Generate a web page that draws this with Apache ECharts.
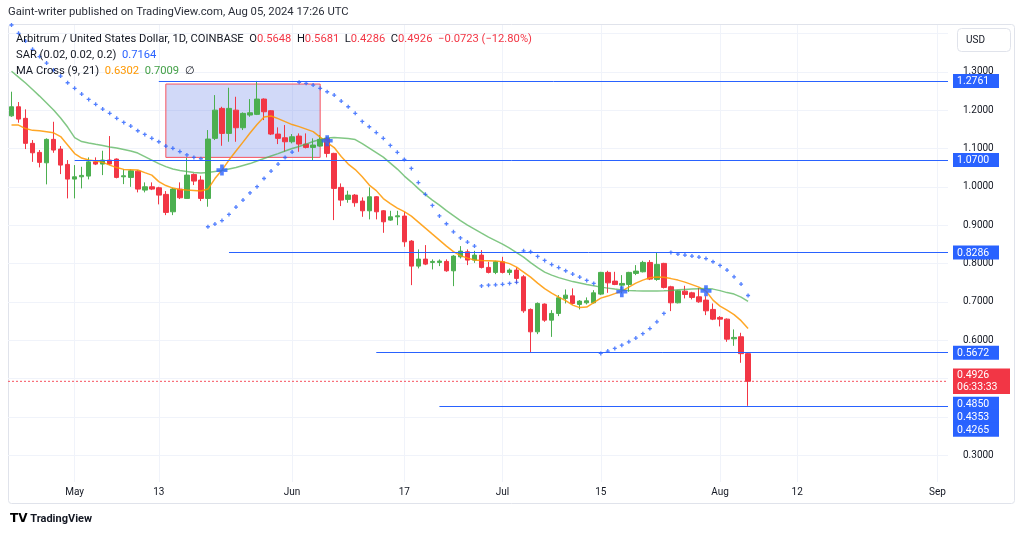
<!DOCTYPE html>
<html><head><meta charset="utf-8">
<script src="https://cdn.jsdelivr.net/npm/echarts@6/dist/echarts.min.js"></script>
<style>html,body{margin:0;padding:0;background:#fff}#c{width:1024px;height:536px}</style>
</head><body><div id="c"></div>
<script>
// ---------- data ----------
const firstDay = '2024-04-22';
const opens = [1.185,1.2087,1.1785,1.1133,1.0897,1.0626,1.1237,1.0984,1.0584,1.0201,
 1.0261,1.0279,1.065,1.0592,1.0697,1.0723,1.0261,1.0245,1.0408,0.9914,
 1.0,0.9974,0.9802,0.9348,0.994,0.9697,1.0323,1.0175,0.9697,1.1263,
 1.2045,1.1393,1.1999,1.154,1.1871,1.1889,1.2288,1.1983,1.1375,1.1279,
 1.1174,1.1323,1.1114,1.1028,1.1062,1.1263,1.0871,0.9984,0.9671,0.9783,
 0.9627,0.9374,0.974,0.9374,0.9131,0.9217,0.9236,0.8583,0.7931,0.8114,
 0.8027,0.8027,0.8053,0.7809,0.8174,0.8304,0.8088,0.8218,0.7897,0.7767,
 0.8044,0.7767,0.7827,0.7652,0.6801,0.6217,0.694,0.6522,0.6697,0.7089,
 0.7155,0.6932,0.6974,0.6974,0.7201,0.7767,0.754,0.7435,0.7453,0.7741,
 0.7783,0.8027,0.7584,0.8002,0.7392,0.6974,0.7278,0.7234,0.713,0.7044,
 0.6801,0.6593,0.6548,0.6035,0.6088,0.5648];
const highs = [1.248,1.221,1.202,1.1219,1.0958,1.1263,1.1696,1.1062,1.0697,1.0566,
 1.0522,1.0767,1.0767,1.094,1.1323,1.074,1.0454,1.0454,1.0435,1.0115,
 1.0115,1.0,0.9888,0.9974,1.0115,1.0757,1.0349,1.0288,1.148,1.2392,
 1.2087,1.2583,1.2348,1.194,1.2288,1.2761,1.2306,1.1999,1.155,1.161,
 1.1375,1.1393,1.1393,1.1263,1.1349,1.1305,1.0887,1.0088,0.9897,0.981,
 0.9724,0.9985,0.9758,0.9392,0.9374,0.9374,0.9348,0.8609,0.8367,0.8479,
 0.8106,0.8106,0.8106,0.8218,0.8453,0.8367,0.833,0.8348,0.8044,0.807,
 0.8174,0.787,0.7897,0.7696,0.6827,0.6984,0.6958,0.6783,0.7174,0.7323,
 0.735,0.7044,0.7114,0.7304,0.7782,0.7809,0.7782,0.7696,0.7782,0.7957,
 0.807,0.8088,0.8286,0.8017,0.7418,0.7304,0.7418,0.726,0.7366,0.7148,
 0.6957,0.6627,0.6566,0.628,0.6192,0.5681];
const lows = [1.1826,1.167,1.0984,1.065,1.0506,1.0063,1.0887,1.0331,0.9697,0.9697,
 0.9958,1.0193,1.0566,1.0305,1.0566,1.022,1.007,0.9999,0.9854,0.9854,
 0.9914,0.9541,0.9261,0.9261,0.9679,0.9697,1.0045,0.9627,0.948,1.1219,
 1.107,1.1174,1.1174,1.148,1.1826,1.1871,1.174,1.1349,1.1114,1.0913,
 1.1133,1.0913,1.1001,1.0697,1.1044,1.0767,0.9131,0.9497,0.9584,0.948,
 0.9217,0.915,0.915,0.88,0.9113,0.8999,0.8435,0.7435,0.7871,0.7957,
 0.7845,0.7931,0.7783,0.7409,0.813,0.7957,0.8017,0.787,0.774,0.7722,
 0.774,0.7696,0.7479,0.6713,0.5672,0.6157,0.6478,0.6085,0.6627,0.6958,
 0.6932,0.6801,0.6932,0.6958,0.7174,0.7234,0.7435,0.7218,0.726,0.7696,
 0.7767,0.7566,0.7548,0.7349,0.6757,0.6958,0.7089,0.7062,0.6974,0.6653,
 0.6522,0.6358,0.5957,0.5852,0.541,0.4286];
const closes = [1.2087,1.1766,1.1133,1.0887,1.0637,1.1237,1.0958,1.0566,1.0201,1.0261,
 1.0297,1.065,1.0592,1.0697,1.0592,1.0245,1.0287,1.0417,0.994,1.0,
 0.994,0.9783,0.9332,0.994,0.9713,1.0305,1.0149,0.9697,1.1245,1.1999,
 1.1393,1.2045,1.154,1.1915,1.1931,1.2288,1.1957,1.1375,1.1263,1.1174,
 1.1305,1.1114,1.1028,1.1088,1.1237,1.0871,0.9958,0.9653,0.9783,0.9584,
 0.9374,0.974,0.9348,0.9087,0.9217,0.9243,0.8565,0.7931,0.8114,0.7983,
 0.8053,0.8062,0.7809,0.8192,0.8322,0.8088,0.8218,0.7897,0.7767,0.8044,
 0.7767,0.7827,0.7611,0.6765,0.6217,0.6958,0.6522,0.6697,0.7104,0.7174,
 0.6958,0.7018,0.7026,0.7234,0.7767,0.7495,0.7453,0.7479,0.7767,0.7801,
 0.8027,0.7592,0.7976,0.7375,0.6974,0.7286,0.7192,0.7114,0.7,0.6765,
 0.6548,0.6548,0.6026,0.6071,0.5648,0.4926];
const ma9 = [1.161,1.161,1.1519,1.1472,1.1462,1.1436,1.1407,1.131,1.1088,1.0866,
 1.0749,1.0697,1.0671,1.0637,1.0566,1.0501,1.0454,1.0446,1.0436,1.037,
 1.0305,1.0136,1.0032,0.9966,0.9932,0.9914,0.9901,0.9888,0.994,1.0214,
 1.0436,1.0697,1.0932,1.1166,1.1401,1.1623,1.1818,1.1845,1.1779,1.1701,
 1.1623,1.157,1.1505,1.144,1.1297,1.1153,1.1023,1.0788,1.0592,1.0449,
 1.0261,1.0045,0.99,0.9692,0.9562,0.9444,0.9353,0.9236,0.908,0.8923,
 0.8766,0.861,0.8453,0.831,0.8205,0.814,0.8088,0.8075,0.807,0.8062,
 0.8044,0.7996,0.7905,0.7775,0.7644,0.7488,0.7344,0.7227,0.7122,0.7031,
 0.6914,0.6849,0.6862,0.6979,0.7096,0.7149,0.7214,0.728,0.7383,0.7488,
 0.7566,0.7626,0.7644,0.7639,0.7605,0.7566,0.7514,0.7449,0.7383,0.728,
 0.7044,0.6888,0.6783,0.6666,0.6509,0.6302];
const ma21 = [1.3014,1.2862,1.2706,1.2536,1.2366,1.2184,1.2001,1.1793,1.1558,1.1284,
 1.118,1.1141,1.1107,1.1075,1.1036,1.101,1.0971,1.0932,1.0879,1.0788,
 1.0697,1.0605,1.0527,1.0462,1.0423,1.0397,1.037,1.0357,1.037,1.0397,
 1.0423,1.0462,1.0501,1.0553,1.0605,1.0671,1.0736,1.0801,1.0866,1.0932,
 1.0997,1.1049,1.1114,1.118,1.1232,1.1271,1.1284,1.1271,1.1258,1.1232,
 1.1127,1.101,1.0893,1.0775,1.0619,1.0462,1.0279,1.0123,0.9953,0.9797,
 0.9653,0.9523,0.9379,0.9249,0.9118,0.9001,0.8897,0.8792,0.8688,0.8597,
 0.8505,0.8401,0.8284,0.8166,0.8023,0.7893,0.7775,0.7697,0.7631,0.7579,
 0.7527,0.7488,0.7449,0.7417,0.7383,0.7357,0.7331,0.731,0.7297,0.7287,
 0.7279,0.7279,0.7284,0.7287,0.7297,0.7313,0.7323,0.7331,0.7339,0.7344,
 0.7331,0.7292,0.724,0.7201,0.7123,0.7009];
const sar = [1.4219,1.4002,1.3801,1.3585,1.3397,1.3227,1.3045,1.2888,1.2713,1.2567,
 1.2419,1.228,1.215,1.2027,1.1915,1.1785,1.168,1.1584,1.1461,1.1367,
 1.1263,1.1174,1.1062,1.1002,1.0918,1.0832,1.0767,1.0731,0.8957,0.9027,
 0.9118,0.928,0.9471,0.9653,0.9841,1.0003,1.0217,1.041,1.0592,1.0765,
 1.0905,1.2724,1.2698,1.2653,1.2567,1.2479,1.2393,1.2236,1.2087,1.1915,
 1.1706,1.1566,1.1414,1.1263,1.108,1.0898,1.0715,1.048,1.011,0.9804,
 0.9515,0.9241,0.9037,0.8826,0.8667,0.8557,0.8453,0.7415,0.7435,0.7443,
 0.7456,0.748,0.7509,0.833,0.8304,0.8184,0.808,0.797,0.7892,0.7811,
 0.7723,0.7644,0.7558,0.748,0.5654,0.5714,0.5784,0.587,0.5956,0.6053,
 0.617,0.6301,0.6478,0.6697,0.8289,0.8244,0.8218,0.8192,0.8166,0.8127,
 0.8044,0.7949,0.7827,0.7652,0.7462,0.7164];
const crossIdx = [30, 45, 87, 99];
const crossVals = [1.0436, 1.1201, 0.7262, 0.7287];
const levelValues = [1.2761, 1.0700, 0.8286, 0.5672, 0.4265];
const levelStartIdx = [21, 9, 31, 52, 61];
const boxIdx = [22, 44];
const boxPrices = [1.268, 1.0767];
const lastPrice = 0.4926;
const priceTicks = [0.3, 0.4, 0.5, 0.6, 0.7, 0.8, 0.9, 1.0, 1.1, 1.2, 1.3];
const gridValues = [0.3, 0.4, 0.5, 0.6, 0.7, 0.8, 0.9, 1.0, 1.1, 1.2, 1.3, 1.4];
const xTickDates = ['2024-05-01','2024-05-13','2024-06-01','2024-06-17','2024-07-01','2024-07-15','2024-08-01','2024-08-12','2024-09-01'];
const tagValues = [1.2761, 1.07, 0.8286, 0.5672, 0.4926, 0.40];
const tagTexts = ['{b|1.2761}', '{b|1.0700}', '{b|0.8286}', '{b|0.5672}', '{r|0.4926}\n{r|06:33:33}', '{b|0.4850}\n{b|0.4353}\n{b|0.4265}'];

// ---------- helpers ----------
const toTs = (s, add = 0, hour = 0) => { const [y, m, d] = s.split('-').map(Number); return new Date(y, m - 1, d + add, hour).getTime(); };
const dates = opens.map((_, i) => toTs(firstDay, i));
const xMin = toTs(firstDay, -1, 12);
const xMax = toTs('2024-09-02', 0, 12);
const xTicks = xTickDates.map(s => toTs(s));
const yMin = 0.23, yMax = 1.422;
const MONTHS = ['Jan','Feb','Mar','Apr','May','Jun','Jul','Aug','Sep','Oct','Nov','Dec'];
const UP = '#4caf50', DOWN = '#f23645', BLUE = '#2962ff', TXT = '#131722';
const FONT = 'Roboto, "Noto Sans", sans-serif';

const candleData = dates.map((t, i) => [t, opens[i], closes[i], lows[i], highs[i]]);
const blueLine = { color: BLUE, width: 1, type: 'solid', opacity: 1 };
const levelLines = levelValues.map((v, k) => [
  { coord: [dates[levelStartIdx[k]], v], lineStyle: blueLine },
  { coord: [xMax, v], lineStyle: blueLine }
]);

const chart = echarts.init(document.getElementById('c'));
chart.setOption({
  animation: false,
  backgroundColor: '#ffffff',
  textStyle: { fontFamily: FONT },
  title: [
    { text: 'Gaint-writer published on TradingView.com, Aug 05, 2024 17:26 UTC', left: 8, top: 7, padding: 0,
      textStyle: { fontSize: 11.3, fontWeight: 'normal', color: '#2a2e39', fontFamily: FONT } },
    { text: '{t|Arbitrum / United States Dollar, 1D, COINBASE}{t|  O}{r|0.5648}{t|  H}{r|0.5681}{t|  L}{r|0.4286}{t|  C}{r|0.4926}{r|  \u22120.0723 (\u221212.80%)}\n' +
            '{t|SAR (0.02, 0.02, 0.2)}{b|  0.7164}\n' +
            '{t|MA Cross (9, 21)}{o|  0.6302}{g|  0.7009}{t|  \u2205}',
      left: 16, top: 31, padding: 0,
      textStyle: { fontSize: 11.2, fontWeight: 'normal', lineHeight: 16,
        rich: {
          t: { color: TXT, fontSize: 11.2, lineHeight: 16, fontFamily: FONT },
          r: { color: DOWN, fontSize: 11.2, lineHeight: 16, fontFamily: FONT },
          b: { color: BLUE, fontSize: 11.2, lineHeight: 16, fontFamily: FONT },
          o: { color: '#ff9800', fontSize: 11.2, lineHeight: 16, fontFamily: FONT },
          g: { color: '#43a047', fontSize: 11.2, lineHeight: 16, fontFamily: FONT }
        } } },
    { text: '{l|TV}{t| TradingView}', left: 10, top: 513, padding: 0,
      textStyle: { rich: {
        l: { fontSize: 12, fontWeight: 'bold', color: '#000', fontFamily: '"DejaVu Sans", sans-serif' },
        t: { fontSize: 11, color: TXT, fontFamily: FONT } } } }
  ],
  graphic: [
    { type: 'rect', silent: true, z: -10, shape: { x: 8.5, y: 24.5, width: 1006, height: 479, r: 3 },
      style: { fill: 'none', stroke: '#e0e3eb', lineWidth: 1 } },
    { type: 'rect', silent: true, z: 20, shape: { x: 957.5, y: 28.5, width: 53, height: 23, r: 4 },
      style: { fill: '#fff', stroke: '#e0e3eb', lineWidth: 1 } },
    { type: 'text', silent: true, z: 21, left: 966, top: 35,
      style: { text: 'USD', fill: TXT, font: '10px ' + FONT } }
  ],
  grid: { left: 8, right: 76, top: 25, bottom: 54 },
  xAxis: {
    type: 'value', min: xMin, max: xMax, scale: true,
    axisLine: { show: false },
    axisTick: { show: false, customValues: xTicks },
    splitLine: { show: true, lineStyle: { color: '#f0f3fa', width: 1 } },
    axisLabel: { customValues: xTicks, color: TXT, fontSize: 10, margin: 5, hideOverlap: false,
      formatter: v => { const d = new Date(v); return d.getDate() === 1 ? MONTHS[d.getMonth()] : String(d.getDate()); } }
  },
  yAxis: [
    { type: 'value', position: 'right', min: yMin, max: yMax,
      axisLine: { show: false },
      axisTick: { show: false, customValues: gridValues },
      splitLine: { show: true, lineStyle: { color: '#f0f3fa', width: 1 } },
      axisLabel: { customValues: priceTicks, color: TXT, fontSize: 10, margin: 15, formatter: v => v.toFixed(4) } },
    { type: 'value', position: 'right', min: yMin, max: yMax, z: 10,
      axisLine: { show: false }, axisTick: { show: false }, splitLine: { show: false },
      axisLabel: { customValues: tagValues, margin: 5,
        formatter: v => { const k = tagValues.findIndex(t => Math.abs(t - v) < 1e-6); return k >= 0 ? tagTexts[k] : ''; },
        rich: {
          b: { backgroundColor: BLUE, color: '#fff', fontSize: 10.5, width: 38, padding: [2, 4, 1, 4], lineHeight: 13, fontFamily: FONT },
          r: { backgroundColor: DOWN, color: '#fff', fontSize: 10.5, width: 49, padding: [1, 4, 1, 4], lineHeight: 12.5, fontFamily: FONT }
        } } }
  ],
  series: [
    { type: 'line', name: 'Last price', data: [[xMin, lastPrice], [xMax, lastPrice]], showSymbol: false, symbol: 'none',
      lineStyle: { color: '#f7525f', width: 1, type: [2, 2], opacity: 1 }, z: 1, silent: true },
    { type: 'candlestick', name: 'ARB', data: candleData,
      dimensions: ['date', 'open', 'close', 'lowest', 'highest'],
      encode: { x: 0, y: [1, 2, 3, 4] },
      barWidth: 5,
      itemStyle: { color: UP, color0: DOWN, borderColor: UP, borderColor0: DOWN, borderWidth: 1 },
      markArea: { silent: true,
        itemStyle: { color: 'rgba(72,102,226,0.25)', borderColor: '#f7525f', borderWidth: 1 },
        data: [[{ coord: [dates[boxIdx[0]], boxPrices[0]] }, { coord: [dates[boxIdx[1]], boxPrices[1]] }]] },
      markLine: { silent: true, symbol: ['none', 'none'], label: { show: false }, data: levelLines }
    },
    { type: 'line', name: 'MA9', data: dates.map((t, i) => [t, ma9[i]]), showSymbol: false, symbol: 'none',
      lineStyle: { color: '#ff9800', width: 1.5, opacity: 0.85 }, z: 3 },
    { type: 'line', name: 'MA21', data: dates.map((t, i) => [t, ma21[i]]), showSymbol: false, symbol: 'none',
      lineStyle: { color: '#4caf50', width: 1.5, opacity: 0.7 }, z: 3 },
    { type: 'scatter', name: 'SAR', data: dates.map((t, i) => [t, sar[i]]),
      symbol: 'path://M1,0H2V1H3V2H2V3H1V2H0V1H1Z', symbolSize: 4,
      itemStyle: { color: BLUE }, z: 4 },
    { type: 'scatter', name: 'Cross', data: crossIdx.map((k, j) => [dates[k], crossVals[j]]),
      symbol: 'path://M3,0H6V3H9V6H6V9H3V6H0V3H3Z', symbolSize: 11,
      itemStyle: { color: BLUE }, z: 5 }
  ]
});
</script>
</body></html>
